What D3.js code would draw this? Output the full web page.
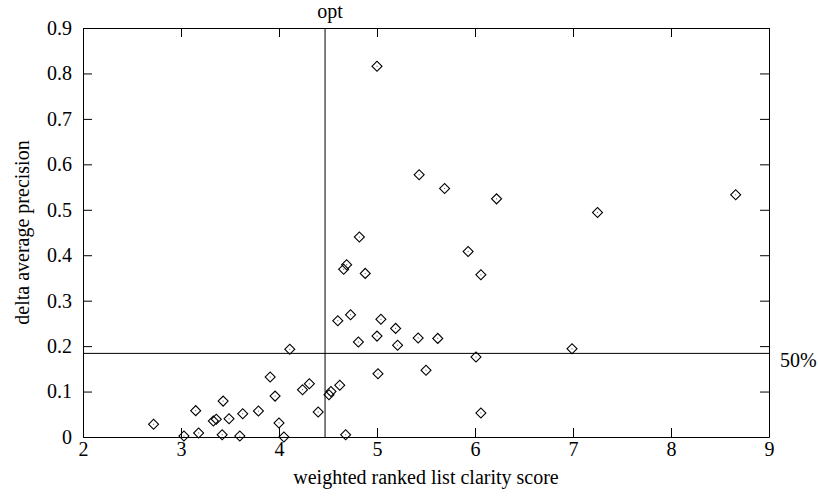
<!DOCTYPE html>
<html>
<head>
<meta charset="utf-8">
<script src="https://cdn.jsdelivr.net/npm/d3@7"></script>
<style>
  body { margin: 0; background: #fff; }
  svg { display: block; }
  text { font-family: "Liberation Serif", "Times New Roman", serif; }
</style>
</head>
<body>
<svg width="818" height="496"></svg>
<script>
// clarity score vs delta average precision
const clarity = [2.72, 3.03, 3.15, 3.18, 3.33, 3.36, 3.43, 3.42, 3.49, 3.60,
  3.63, 3.79, 3.91, 3.96, 4.00, 4.05, 4.11, 4.24, 4.31, 4.40,
  4.51, 4.53, 4.62, 4.60, 4.73, 4.82, 4.69, 4.66, 4.88, 4.81,
  5.00, 5.04, 5.19, 5.21, 5.42, 5.62, 5.01, 5.50, 4.68, 5.93,
  6.06, 6.01, 6.06, 6.99, 5.00, 5.43, 5.69, 6.22, 7.25, 8.66];
const deltaAP = [0.028, 0.002, 0.058, 0.009, 0.035, 0.039, 0.079, 0.005, 0.040, 0.002,
  0.051, 0.057, 0.132, 0.090, 0.031, 0.000, 0.193, 0.104, 0.117, 0.055,
  0.093, 0.100, 0.114, 0.256, 0.269, 0.440, 0.379, 0.369, 0.360, 0.209,
  0.222, 0.259, 0.239, 0.202, 0.218, 0.217, 0.139, 0.147, 0.005, 0.408,
  0.357, 0.176, 0.053, 0.194, 0.816, 0.577, 0.547, 0.524, 0.494, 0.533];
const xTicks = [2, 3, 4, 5, 6, 7, 8, 9];
const yTicks = [0, 0.1, 0.2, 0.3, 0.4, 0.5, 0.6, 0.7, 0.8, 0.9];
const optX = 4.47;       // vertical "opt" marker
const medianY = 0.184;   // horizontal "50%" marker

window.onload = () => {
  const svg = d3.select("svg");
  const left = 83, right = 769, top = 28, bottom = 437;
  const fs = 20;

  const x = d3.scaleLinear().domain([2, 9]).range([left, right]);
  const y = d3.scaleLinear().domain([0, 0.9]).range([bottom, top]);

  const styleAxis = g => {
    g.selectAll("path").attr("stroke", "#000");
    g.selectAll("line").attr("stroke", "#000");
    g.selectAll("text").attr("font-size", fs).attr("fill", "#000");
  };

  svg.append("g").attr("transform", `translate(0,${bottom})`)
    .call(d3.axisBottom(x).tickValues(xTicks).tickFormat(d3.format("d"))
      .tickSizeInner(-9).tickSizeOuter(0).tickPadding(5))
    .call(styleAxis);
  svg.append("g").attr("transform", `translate(0,${top})`)
    .call(d3.axisTop(x).tickValues(xTicks).tickFormat("")
      .tickSizeInner(-9).tickSizeOuter(0))
    .call(styleAxis);
  svg.append("g").attr("transform", `translate(${left},0)`)
    .call(d3.axisLeft(y).tickValues(yTicks).tickFormat(d => d === 0 ? "0" : d3.format(".1f")(d))
      .tickSizeInner(-9).tickSizeOuter(0).tickPadding(11))
    .call(styleAxis);
  svg.append("g").attr("transform", `translate(${right},0)`)
    .call(d3.axisRight(y).tickValues(yTicks).tickFormat("")
      .tickSizeInner(-9).tickSizeOuter(0))
    .call(styleAxis);

  // reference lines
  svg.append("line")
    .attr("x1", x(optX)).attr("x2", x(optX))
    .attr("y1", top).attr("y2", bottom)
    .attr("stroke", "#000");
  svg.append("line")
    .attr("x1", left).attr("x2", right)
    .attr("y1", y(medianY)).attr("y2", y(medianY))
    .attr("stroke", "#000");

  svg.append("text").attr("x", x(optX) + 5).attr("y", 18)
    .attr("text-anchor", "middle").attr("font-size", fs).text("opt");
  svg.append("text").attr("x", right + 11).attr("y", y(medianY) + 14)
    .attr("font-size", fs).text("50%");

  // points: open diamonds with a centre dot
  const data = clarity.map((c, i) => ({ c, d: deltaAP[i] }));
  const diamond = d3.symbol(d3.symbolSquare, 50);
  const pts = svg.append("g").selectAll("g")
    .data(data)
    .enter()
    .append("g")
    .attr("transform", d => `translate(${x(d.c)},${y(d.d)})`);
  pts.append("path")
    .attr("d", diamond)
    .attr("transform", "rotate(45)")
    .attr("fill", "none")
    .attr("stroke", "#000")
    .attr("stroke-width", 1.1);
  pts.append("rect")
    .attr("x", -0.5).attr("y", -0.5)
    .attr("width", 1).attr("height", 1)
    .attr("fill", "#555");

  // axis titles
  svg.append("text").attr("x", (left + right) / 2).attr("y", 484)
    .attr("text-anchor", "middle").attr("font-size", fs)
    .text("weighted ranked list clarity score");
  svg.append("text")
    .attr("transform", `translate(29,${(top + bottom) / 2}) rotate(-90)`)
    .attr("text-anchor", "middle").attr("font-size", fs)
    .text("delta average precision");
};
</script>
</body>
</html>
